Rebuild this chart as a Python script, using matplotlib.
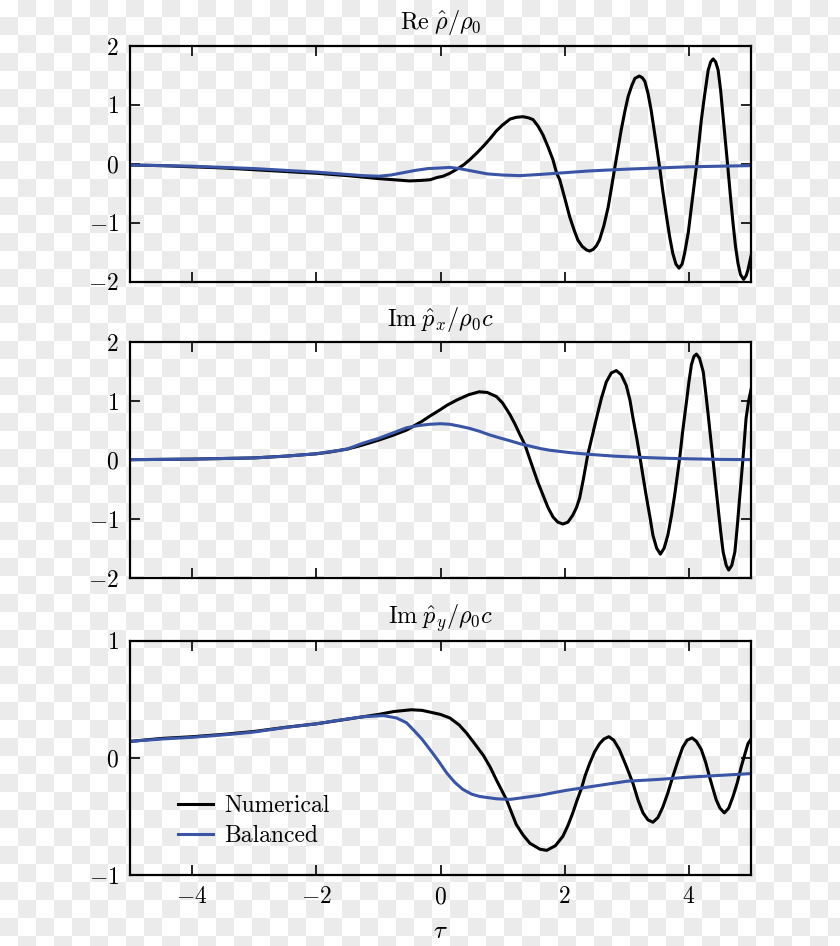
import numpy as np
import matplotlib
matplotlib.use('Agg')
import matplotlib.pyplot as plt
from matplotlib.colors import ListedColormap

plt.rcParams['font.family'] = 'serif'
plt.rcParams['font.serif'] = ['cmr10']
plt.rcParams['mathtext.fontset'] = 'cm'
plt.rcParams['axes.formatter.use_mathtext'] = True

# Datos
# Panel 1: Re rho / rho0
t1_num = [-5.0, -4.5, -4.0, -3.5, -3.0, -2.5, -2.0, -1.5, -1.0, -0.75, -0.5, -0.3, -0.17, -0.05,
          0.04, 0.15, 0.28, 0.38, 0.47, 0.58, 0.69, 0.80, 0.90, 1.0, 1.12, 1.22, 1.33, 1.42, 1.49,
          1.57, 1.65, 1.73, 1.81, 1.87, 1.92, 2.0, 2.08, 2.15, 2.21, 2.28, 2.35, 2.40, 2.46, 2.51,
          2.56, 2.63, 2.70, 2.75, 2.80, 2.86, 2.91, 2.97, 3.02, 3.08, 3.13, 3.20, 3.25, 3.29, 3.34,
          3.39, 3.46, 3.53, 3.58, 3.64, 3.69, 3.74, 3.79, 3.84, 3.89, 3.93, 3.99, 4.04, 4.08, 4.12,
          4.16, 4.20, 4.25, 4.31, 4.35, 4.39, 4.43, 4.47, 4.51, 4.55, 4.59, 4.63, 4.67, 4.71, 4.75,
          4.79, 4.83, 4.88, 4.92, 4.95, 5.0]
y1_num = [-0.02, -0.03, -0.05, -0.07, -0.10, -0.13, -0.16, -0.20, -0.25, -0.27, -0.29, -0.28, -0.27, -0.23,
          -0.21, -0.16, -0.08, -0.01, 0.07, 0.18, 0.30, 0.43, 0.56, 0.66, 0.76, 0.79, 0.80, 0.78, 0.75,
          0.64, 0.49, 0.29, 0.07, -0.16, -0.27, -0.58, -0.90, -1.12, -1.29, -1.40, -1.46, -1.48, -1.45, -1.39,
          -1.29, -1.05, -0.73, -0.42, -0.10, 0.27, 0.58, 0.90, 1.14, 1.33, 1.45, 1.49, 1.46, 1.40, 1.20,
          0.92, 0.43, -0.07, -0.47, -0.90, -1.24, -1.52, -1.70, -1.77, -1.70, -1.52, -1.16, -0.73, -0.39, -0.05,
          0.35, 0.75, 1.15, 1.59, 1.73, 1.78, 1.73, 1.59, 1.25, 0.80, 0.35, -0.10, -0.57, -1.01, -1.40,
          -1.69, -1.88, -1.96, -1.90, -1.80, -1.56]
t1_bal = [-5.0, -4.0, -3.0, -2.0, -1.5, -1.25, -1.0, -0.8, -0.6, -0.4, -0.2, 0.0, 0.15, 0.3, 0.5,
          0.75, 1.0, 1.28, 1.6, 2.0, 2.4, 3.0, 3.5, 4.0, 4.5, 5.0]
y1_bal = [-0.02, -0.04, -0.08, -0.14, -0.18, -0.20, -0.21, -0.19, -0.15, -0.11, -0.08, -0.07, -0.06, -0.08, -0.12,
          -0.17, -0.19, -0.20, -0.18, -0.15, -0.12, -0.09, -0.07, -0.05, -0.04, -0.03]

# Panel 2: Im px / rho0 c
t2_num = [-5.0, -4.0, -3.0, -2.5, -2.0, -1.78, -1.5, -1.25, -1.0, -0.75, -0.55, -0.45, -0.3, -0.17,
          0.0, 0.1, 0.26, 0.45, 0.62, 0.75, 0.90, 1.0, 1.12, 1.20, 1.28, 1.36, 1.49, 1.57, 1.65,
          1.73, 1.81, 1.89, 1.97, 2.05, 2.13, 2.19, 2.24, 2.30, 2.37, 2.44, 2.51, 2.59, 2.67, 2.75,
          2.83, 2.91, 2.99, 3.05, 3.10, 3.16, 3.21, 3.26, 3.31, 3.37, 3.42, 3.48, 3.54, 3.60, 3.66,
          3.72, 3.77, 3.81, 3.85, 3.90, 3.96, 4.00, 4.04, 4.08, 4.12, 4.17, 4.23, 4.27, 4.31, 4.35,
          4.39, 4.43, 4.47, 4.51, 4.55, 4.60, 4.64, 4.69, 4.74, 4.78, 4.82, 4.87, 4.92, 4.96, 5.0]
y2_num = [0.01, 0.02, 0.04, 0.07, 0.11, 0.14, 0.19, 0.26, 0.34, 0.43, 0.51, 0.57, 0.66, 0.75,
          0.86, 0.93, 1.02, 1.11, 1.16, 1.15, 1.08, 0.97, 0.77, 0.61, 0.43, 0.26, -0.14, -0.38, -0.59,
          -0.80, -0.96, -1.05, -1.08, -1.05, -0.93, -0.80, -0.64, -0.32, 0.09, 0.40, 0.71, 1.05, 1.33, 1.48,
          1.52, 1.45, 1.27, 1.02, 0.71, 0.37, 0.06, -0.27, -0.59, -0.95, -1.27, -1.49, -1.59, -1.49, -1.27,
          -0.93, -0.59, -0.28, 0.03, 0.50, 0.99, 1.33, 1.62, 1.76, 1.80, 1.73, 1.50, 1.15, 0.77, 0.37,
          -0.02, -0.42, -0.81, -1.20, -1.55, -1.78, -1.86, -1.78, -1.55, -1.10, -0.59, 0.03, 0.71, 1.0, 1.2]
t2_bal = [-5.0, -4.0, -3.0, -2.5, -2.0, -1.5, -1.25, -1.0, -0.75, -0.55, -0.35, -0.17, 0.0, 0.15, 0.3,
          0.47, 0.63, 0.79, 0.95, 1.12, 1.28, 1.44, 1.60, 1.76, 2.08, 2.40, 2.8, 3.21, 3.6, 4.0, 4.5, 5.0]
y2_bal = [0.01, 0.02, 0.04, 0.07, 0.11, 0.19, 0.29, 0.37, 0.47, 0.55, 0.59, 0.61, 0.62, 0.61, 0.58,
          0.54, 0.49, 0.43, 0.38, 0.33, 0.28, 0.24, 0.20, 0.17, 0.13, 0.10, 0.07, 0.05, 0.035, 0.025, 0.015, 0.01]

# Panel 3: Im py / rho0 c
t3_num = [-5.0, -4.5, -4.0, -3.5, -3.0, -2.5, -2.0, -1.75, -1.5, -1.25, -1.0, -0.75, -0.47, -0.3,
          -0.17, 0.0, 0.15, 0.3, 0.42, 0.55, 0.69, 0.8, 0.90, 1.06, 1.22, 1.33, 1.44, 1.60, 1.71,
          1.85, 1.97, 2.05, 2.13, 2.20, 2.27, 2.33, 2.40, 2.48, 2.56, 2.63, 2.71, 2.79, 2.88, 2.99,
          3.10, 3.18, 3.26, 3.34, 3.42, 3.50, 3.58, 3.66, 3.74, 3.82, 3.90, 3.97, 4.05, 4.12, 4.20,
          4.27, 4.33, 4.39, 4.44, 4.50, 4.57, 4.64, 4.71, 4.78, 4.84, 4.90, 4.95, 5.0]
y3_num = [0.14, 0.165, 0.18, 0.20, 0.225, 0.26, 0.29, 0.31, 0.33, 0.35, 0.37, 0.395, 0.41, 0.405,
          0.39, 0.37, 0.34, 0.28, 0.21, 0.12, 0.02, -0.08, -0.19, -0.355, -0.57, -0.66, -0.73, -0.78, -0.79,
          -0.75, -0.67, -0.58, -0.47, -0.36, -0.26, -0.15, -0.05, 0.05, 0.12, 0.16, 0.18, 0.15, 0.07, -0.07,
          -0.22, -0.36, -0.47, -0.53, -0.55, -0.51, -0.42, -0.30, -0.16, -0.03, 0.09, 0.15, 0.17, 0.14, 0.07,
          -0.04, -0.16, -0.27, -0.36, -0.43, -0.47, -0.43, -0.33, -0.21, -0.08, 0.03, 0.12, 0.16]
t3_bal = [-5.0, -4.5, -4.0, -3.39, -3.0, -2.48, -2.0, -1.65, -1.25, -0.92, -0.71, -0.55, -0.44, -0.3,
          -0.17, -0.03, 0.10, 0.23, 0.36, 0.5, 0.63, 0.90, 1.12, 1.40, 1.60, 2.0, 2.5, 3.0, 3.5, 4.0, 4.5, 5.0]
y3_bal = [0.14, 0.16, 0.175, 0.20, 0.22, 0.26, 0.29, 0.32, 0.35, 0.36, 0.34, 0.30, 0.24, 0.16,
          0.07, -0.03, -0.13, -0.21, -0.27, -0.31, -0.33, -0.35, -0.355, -0.335, -0.32, -0.28, -0.24, -0.20, -0.185, -0.165, -0.15, -0.135]

titulos = [r'$\mathrm{Re}\;\hat{\rho}/\rho_0$', r'$\mathrm{Im}\;\hat{p}_x/\rho_0 c$', r'$\mathrm{Im}\;\hat{p}_y/\rho_0 c$']
yticks = [[-2, -1, 0, 1, 2], [-2, -1, 0, 1, 2], [-1, 0, 1]]
xticks = [-4, -2, 0, 2, 4]

azul = '#3b55a6'

fig = plt.figure(figsize=(8.4, 9.46), dpi=100)

# fondo a cuadros
bg = fig.add_axes([0, 0, 1, 1], zorder=-10)
filas, cols = 53, 47
tablero = np.add.outer(np.arange(filas), np.arange(cols)) % 2
bg.imshow(tablero, cmap=ListedColormap(['white', '#ebebeb']), extent=(0, cols * 18, filas * 18, 0),
          interpolation='nearest', aspect='auto')
bg.set_xlim(0, 840)
bg.set_ylim(946, 0)
bg.axis('off')

posiciones = [[0.1548, 0.7022, 0.7393, 0.2492],
              [0.1548, 0.3887, 0.7393, 0.2495],
              [0.1548, 0.0751, 0.7393, 0.2477]]
datos = [(t1_num, y1_num, t1_bal, y1_bal), (t2_num, y2_num, t2_bal, y2_bal), (t3_num, y3_num, t3_bal, y3_bal)]

for i in range(3):
    ax = fig.add_axes(posiciones[i])
    ax.set_facecolor('none')
    tn, yn, tb, yb = datos[i]
    ax.plot(tn, yn, color='black', lw=2.2, label='Numerical', solid_joinstyle='round')
    ax.plot(tb, yb, color=azul, lw=2.2, label='Balanced', solid_joinstyle='round')
    ax.set_xlim(-5, 5)
    ax.set_ylim(yticks[i][0], yticks[i][-1])
    ax.set_xticks(xticks)
    ax.set_yticks(yticks[i])
    ax.tick_params(direction='in', top=True, right=True, length=7, width=1.2, labelsize=17, pad=8)
    for s in ax.spines.values():
        s.set_linewidth(1.6)
    ax.set_title(titulos[i], fontsize=17.5, pad=12)
    if i < 2:
        ax.set_xticklabels([])
    else:
        ax.set_xlabel(r'$\tau$', fontsize=18, labelpad=9)
        ax.legend(loc='center left', bbox_to_anchor=(0.0773, 0.2305), frameon=False, fontsize=17,
                  borderpad=0, borderaxespad=0, handlelength=1.5, handletextpad=0.45, labelspacing=0.32)

fig.savefig('out.png', dpi=100)
